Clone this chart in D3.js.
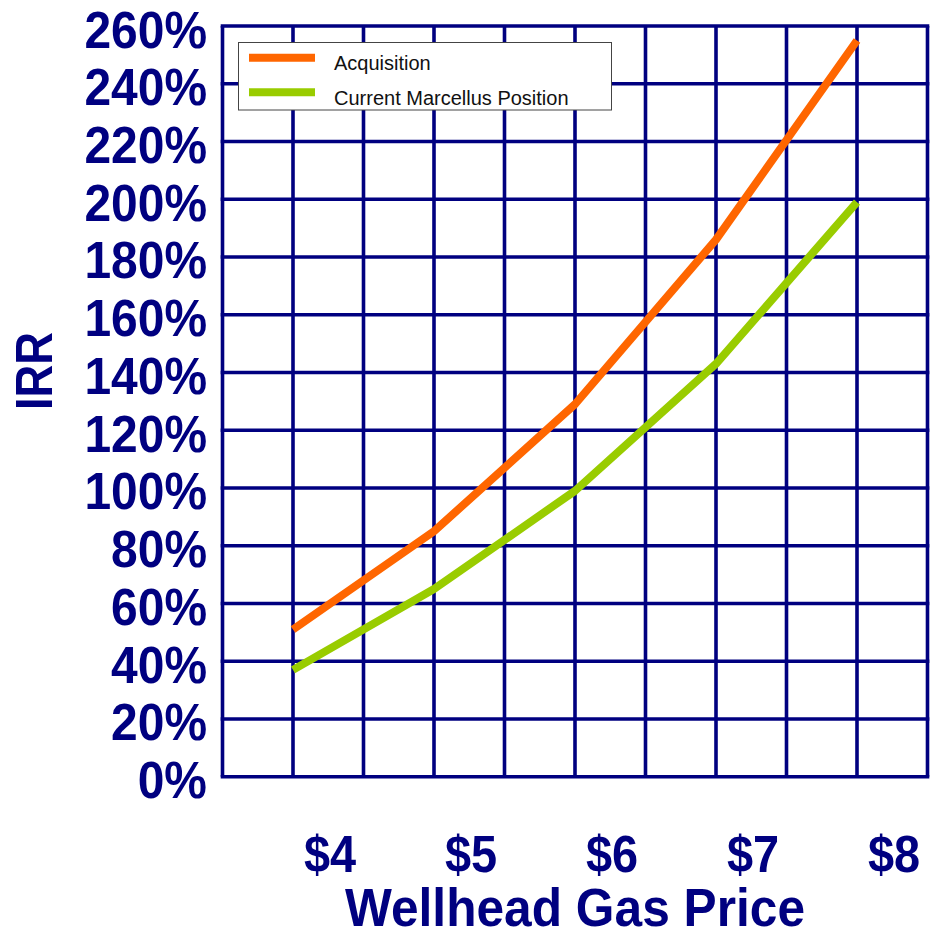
<!DOCTYPE html>
<html>
<head>
<meta charset="utf-8">
<script src="https://cdn.jsdelivr.net/npm/d3@7"></script>
<style>
  html, body { margin: 0; padding: 0; background: #ffffff; }
  svg { display: block; }
  text { font-family: "Liberation Sans", Arial, Helvetica, sans-serif; }
</style>
</head>
<body>
<svg id="chart" width="930" height="932"></svg>
<script>
// ---- data ----
const prices = [4, 5, 6, 7, 8];
const xTickLabels = ["$4", "$5", "$6", "$7", "$8"];
const acquisition = [51, 85, 129, 186, 255];
const currentMarcellus = [37, 65, 99, 143, 199];
const seriesNames = ["Acquisition", "Current Marcellus Position"];
const yTicks = [0, 20, 40, 60, 80, 100, 120, 140, 160, 180, 200, 220, 240, 260];
const yTickLabels = ["0%", "20%", "40%", "60%", "80%", "100%", "120%", "140%", "160%", "180%", "200%", "220%", "240%", "260%"];
const xGrid = [3.5, 4, 4.5, 5, 5.5, 6, 6.5, 7, 7.5, 8, 8.5];

// ---- styles ----
const navy = "#000080";
const colors = ["#FF6600", "#99CC00"];

const svg = d3.select("#chart");
const pLeft = 222.5, pRight = 927.5, pTop = 26, pBottom = 776.7;

const x = d3.scaleLinear().domain([3.5, 8.5]).range([pLeft, pRight]);
const y = d3.scaleLinear().domain([0, 260]).range([pBottom, pTop]);

// grid
const g = svg.append("g");
g.selectAll("line.v").data(xGrid).join("line")
  .attr("class", "v")
  .attr("x1", d => x(d)).attr("x2", d => x(d))
  .attr("y1", pTop).attr("y2", pBottom)
  .attr("stroke", navy).attr("stroke-width", 3.6);
g.selectAll("line.h").data(yTicks).join("line")
  .attr("class", "h")
  .attr("x1", pLeft - 1.8).attr("x2", pRight + 1.8)
  .attr("y1", d => y(d)).attr("y2", d => y(d))
  .attr("stroke", navy).attr("stroke-width", 3.6);

// helper for condensed bold text
function label(parent, txt, tx, ty, size, sx, anchor, rot) {
  return parent.append("text")
    .attr("transform", `translate(${tx},${ty})` + (rot ? ` rotate(${rot})` : "") + ` scale(${sx},1)`)
    .attr("text-anchor", anchor)
    .attr("font-size", size)
    .attr("font-weight", "bold")
    .attr("fill", navy)
    .text(txt);
}

// y tick labels
yTicks.forEach((v, i) => label(svg, yTickLabels[i], 207, y(v) + 21.5, 51, 0.94, "end"));

// x tick labels
prices.forEach((v, i) => label(svg, xTickLabels[i], x(v) + 37, 872, 51, 0.92, "middle"));

// axis titles
label(svg, "Wellhead Gas Price", 575, 926, 54, 0.92, "middle");
label(svg, "IRR", 51.5, 371, 52, 0.87, "middle", -90);

// series lines
const line = d3.line().x((d, i) => x(prices[i])).y(d => y(d));
[acquisition, currentMarcellus].forEach((s, k) => {
  svg.append("path").datum(s)
    .attr("d", line)
    .attr("fill", "none")
    .attr("stroke", colors[k])
    .attr("stroke-width", 8)
    .attr("stroke-linejoin", "round")
    .attr("stroke-linecap", "butt");
});

// legend
const lg = svg.append("g");
lg.append("rect").attr("x", 238.5).attr("y", 42.5).attr("width", 373).attr("height", 67.5)
  .attr("fill", "#ffffff").attr("stroke", "#444").attr("stroke-width", 1);
seriesNames.forEach((name, k) => {
  const ly = 57.7 + k * 34.6;
  lg.append("line").attr("x1", 249).attr("x2", 315).attr("y1", ly).attr("y2", ly)
    .attr("stroke", colors[k]).attr("stroke-width", 8);
  lg.append("text").attr("x", 334).attr("y", ly + 12.5)
    .attr("font-size", 20).attr("fill", "#111").text(name);
});
</script>
</body>
</html>
